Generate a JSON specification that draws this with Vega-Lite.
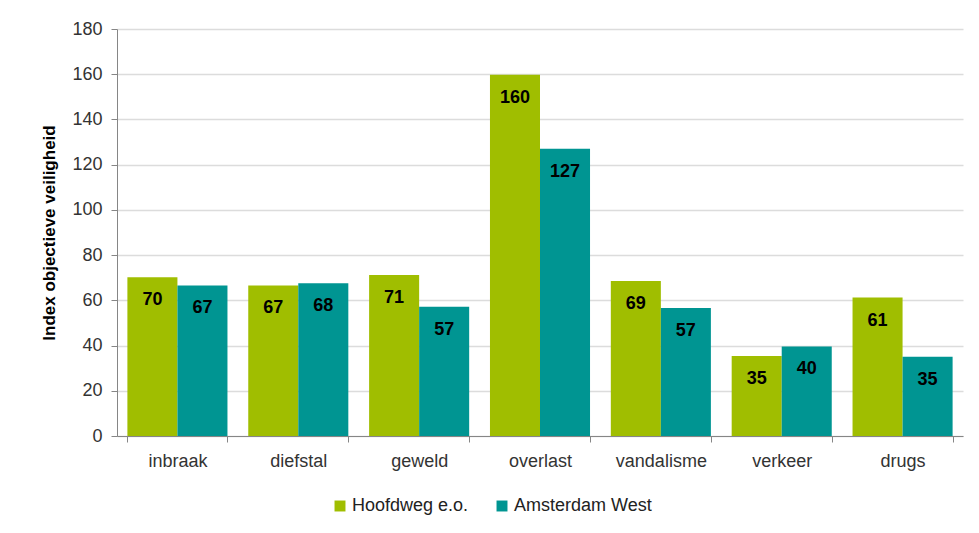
{
  "$schema": "https://vega.github.io/schema/vega-lite/v6.json",
  "width": 846,
  "height": 407,
  "autosize": {"type": "none"},
  "padding": {"left": 117, "top": 29, "right": 16, "bottom": 97},
  "background": "white",
  "config": {
    "font": "Liberation Sans",
    "view": {"stroke": null},
    "axis": {"labelFont": "Liberation Sans", "labelColor": "#333333", "labelFontSize": 18}
  },
  "data": {
    "values": [
      {"categorie": "inbraak", "gebied": "Hoofdweg e.o.", "index": 70.2},
      {"categorie": "inbraak", "gebied": "Amsterdam West", "index": 66.6},
      {"categorie": "diefstal", "gebied": "Hoofdweg e.o.", "index": 66.6},
      {"categorie": "diefstal", "gebied": "Amsterdam West", "index": 67.6},
      {"categorie": "geweld", "gebied": "Hoofdweg e.o.", "index": 71.2},
      {"categorie": "geweld", "gebied": "Amsterdam West", "index": 57.2},
      {"categorie": "overlast", "gebied": "Hoofdweg e.o.", "index": 159.8},
      {"categorie": "overlast", "gebied": "Amsterdam West", "index": 127.0},
      {"categorie": "vandalisme", "gebied": "Hoofdweg e.o.", "index": 68.6},
      {"categorie": "vandalisme", "gebied": "Amsterdam West", "index": 56.6},
      {"categorie": "verkeer", "gebied": "Hoofdweg e.o.", "index": 35.4},
      {"categorie": "verkeer", "gebied": "Amsterdam West", "index": 39.6},
      {"categorie": "drugs", "gebied": "Hoofdweg e.o.", "index": 61.2},
      {"categorie": "drugs", "gebied": "Amsterdam West", "index": 35.0}
    ]
  },
  "encoding": {
    "x": {
      "field": "categorie",
      "type": "nominal",
      "sort": null,
      "scale": {"paddingInner": 0.172, "paddingOuter": 0.086},
      "axis": {
        "title": null,
        "labelAngle": 0,
        "labelPadding": 10,
        "domainColor": "#868686",
        "tickColor": "#868686",
        "tickBand": "extent",
        "tickSize": 6,
        "grid": false
      }
    },
    "xOffset": {"field": "gebied", "type": "nominal", "sort": ["Hoofdweg e.o.", "Amsterdam West"]},
    "y": {
      "field": "index",
      "type": "quantitative",
      "scale": {"domain": [0, 180], "nice": false},
      "axis": {
        "title": "Index objectieve veiligheid",
        "titleFont": "Liberation Sans",
        "titleFontSize": 17,
        "titleFontWeight": "bold",
        "titleColor": "#000000",
        "titlePadding": 13,
        "values": [0, 20, 40, 60, 80, 100, 120, 140, 160, 180],
        "domainColor": "#868686",
        "tickColor": "#868686",
        "tickSize": 6,
        "labelPadding": 9,
        "gridColor": "#dcdcdc",
        "gridWidth": 1.5
      }
    }
  },
  "layer": [
    {
      "mark": {"type": "bar"},
      "encoding": {
        "color": {
          "field": "gebied",
          "type": "nominal",
          "sort": ["Hoofdweg e.o.", "Amsterdam West"],
          "scale": {"domain": ["Hoofdweg e.o.", "Amsterdam West"], "range": ["#a0be00", "#009592"]},
          "legend": {
            "title": null,
            "orient": "none",
            "direction": "horizontal",
            "legendX": 214,
            "legendY": 468,
            "symbolType": "square",
            "symbolSize": 120,
            "symbolStrokeWidth": 0,
            "labelFontSize": 18,
            "labelFont": "Liberation Sans",
            "labelColor": "#222222",
            "labelOffset": 3,
            "columnPadding": 24
          }
        }
      }
    },
    {
      "mark": {"type": "text", "baseline": "middle", "dy": 23, "fontSize": 18, "fontWeight": "bold", "color": "#000000", "font": "Liberation Sans"},
      "encoding": {
        "text": {"field": "index", "type": "quantitative", "format": ".0f"}
      }
    }
  ]
}
